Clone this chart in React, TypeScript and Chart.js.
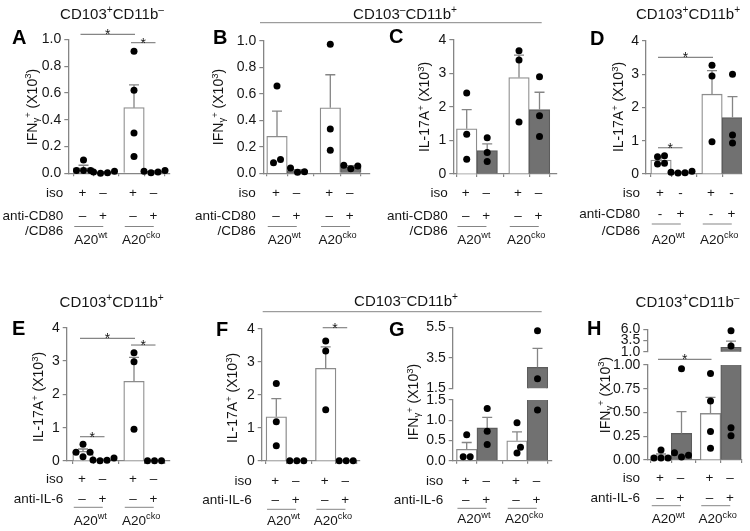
import React, { useEffect, useRef } from 'react';
import { Chart, registerables } from 'chart.js';
Chart.register(...registerables);

// ---------------- data ----------------
const CONDITIONS = ['A20wt iso', 'A20wt anti', 'A20cko iso', 'A20cko anti'];
const GENO_SUP = ['wt', 'cko'];
const ISO_ROW = ['+', '–', '+', '–'];
const ANTI_ROW = ['–', '+', '–', '+'];
const ISO_ROW_D = ['+', '-', '+', '-'];
const ANTI_ROW_D = ['-', '+', '-', '+'];

const TICKS_IFN = [0, 0.2, 0.4, 0.6, 0.8, 1.0];
const TICKLBL_IFN = ['0.0', '0.2', '0.4', '0.6', '0.8', '1.0'];
const TICKS_IL17 = [0, 1, 2, 3, 4];
const TICKLBL_IL17 = ['0', '1', '2', '3', '4'];
const TICKS_G_LOW = [0, 0.5, 1.0, 1.5];
const TICKLBL_G_LOW = ['0.0', '0.5', '1.0', '1.5'];
const TICKS_G_UP = [1.5, 3.5, 5.5];
const TICKLBL_G_UP = ['1.5', '3.5', '5.5'];
const TICKS_H_LOW = [0, 0.25, 0.5, 0.75, 1.0];
const TICKLBL_H_LOW = ['0.00', '0.25', '0.50', '0.75', '1.00'];
const TICKS_H_UP = [1.0, 3.5, 6.0];
const TICKLBL_H_UP = ['1.0', '3.5', '6.0'];

const A_MEAN = [0.04, 0.008, 0.49, 0.015];
const A_SEM = [0.02, 0.004, 0.17, 0.004];
const A_DOTS = [[0.1, 0.02, 0.02, 0.02], [0.0, 0.005, 0.01, 0.015], [0.91, 0.62, 0.3, 0.125], [0.005, 0.01, 0.015, 0.02]];
const A_SIG = [[0, 2, 1.037], [2, 3, 0.975]];

const B_MEAN = [0.28, 0.02, 0.495, 0.05];
const B_SEM = [0.19, 0.008, 0.25, 0.008];
const B_DOTS = [[0.66, 0.08, 0.105], [0.04, 0.008, 0.012], [0.975, 0.335, 0.175], [0.06, 0.035, 0.055]];

const C_MEAN = [1.35, 0.7, 2.88, 1.92];
const C_SEM = [0.57, 0.2, 0.67, 0.52];
const C_DOTS = [[2.42, 1.19, 0.44], [1.08, 0.64, 0.37], [3.68, 3.4, 1.55], [2.9, 1.74, 1.12]];

const D_MEAN = [0.42, 0.05, 2.4, 1.7];
const D_SEM = [0.08, 0.015, 0.71, 0.63];
const D_DOTS = [[0.55, 0.52, 0.32, 0.3], [0.08, 0.05, 0.03, 0.04], [3.27, 2.95, 0.97], [3.0, 1.17, 0.93]];
const D_SIG = [[0, 2, 3.51], [0, 1, 0.79]];

const E_MEAN = [0.29, 0.035, 2.39, 0.01];
const E_SEM = [0.07, 0.018, 0.72, 0.003];
const E_DOTS = [[0.5, 0.26, 0.26, 0.13], [0.09, 0.03, 0.02, 0.01], [3.25, 2.98, 0.95], [0.01, 0.01, 0.01]];
const E_SIG = [[0, 2, 3.68], [2, 3, 3.48], [0, 1, 0.73]];

const F_MEAN = [1.34, 0.01, 2.81, 0.01];
const F_SEM = [0.55, 0.003, 0.65, 0.003];
const F_DOTS = [[2.35, 1.19, 0.46], [0.01, 0.01, 0.01], [3.64, 3.33, 1.55], [0.01, 0.01, 0.01]];
const F_SIG = [[2, 3, 4.04]];

const G_MEAN = [0.28, 0.81, 0.49, 2.88];
const G_SEM = [0.17, 0.26, 0.22, 1.24];
const G_DOTS = [[0.64, 0.1, 0.1], [1.29, 0.73, 0.4], [0.94, 0.33, 0.19], [5.28, 2.13, 1.25]];

const H_MEAN = [0.046, 0.28, 0.49, 2.0];
const H_SEM = [0.017, 0.23, 0.17, 1.35];
const H_DOTS = [[0.105, 0.02, 0.02, 0.02], [0.96, 0.077, 0.032, 0.05], [0.91, 0.62, 0.3, 0.125], [5.69, 2.27, 0.34, 0.256]];
const H_SIG = [[0, 2, 1.06]];

// ---------------- styles / layout ----------------
const FAMILY = '"Liberation Sans", Arial, Helvetica, sans-serif';
const AX = '#858585';
const TXT = '#151515';
const FILLS = ['#ffffff', '#717171', '#ffffff', '#717171'];
const BORDERS = ['#8c8c8c', '#5c5c5c', '#8c8c8c', '#5c5c5c'];
const YW = 50;
const U = 20.5;
const STEP = 7;
const DOT_R = 3.5;
const FS_TICK = 14;
const FS_ROW = 13.5;
const FS_TITLE = 15;
const FS_YT = 14;
const FS_LETTER = 20;

type Seg = { t: string; sup?: boolean; sub?: boolean };
const T_PM: Seg[] = [{ t: 'CD103' }, { t: '+', sup: true }, { t: 'CD11b' }, { t: '–', sup: true }];
const T_MP: Seg[] = [{ t: 'CD103' }, { t: '–', sup: true }, { t: 'CD11b' }, { t: '+', sup: true }];
const T_PP: Seg[] = [{ t: 'CD103' }, { t: '+', sup: true }, { t: 'CD11b' }, { t: '+', sup: true }];
const Y_IFN: Seg[] = [{ t: 'IFN' }, { t: 'γ', sub: true }, { t: '+', sup: true }, { t: ' (X10' }, { t: '3', sup: true }, { t: ')' }];
const Y_IL17: Seg[] = [{ t: 'IL-17A' }, { t: '+', sup: true }, { t: ' (X10' }, { t: '3', sup: true }, { t: ')' }];

const font = (size: number, bold = false) => `${bold ? 'bold ' : ''}${size}px ${FAMILY}`;

function drawRich(ctx: any, segs: Seg[], x: number, yc: number, align: string, size: number) {
  const small = size * 0.68;
  const yBase = yc + size * 0.36;
  let w = 0;
  const ws = segs.map((s) => {
    ctx.font = font(s.sup || s.sub ? small : size);
    const m = ctx.measureText(s.t).width;
    w += m;
    return m;
  });
  let cx = align === 'center' ? x - w / 2 : align === 'right' ? x - w : x;
  ctx.textAlign = 'left';
  ctx.textBaseline = 'alphabetic';
  ctx.fillStyle = TXT;
  segs.forEach((s, i) => {
    ctx.font = font(s.sup || s.sub ? small : size);
    const dy = s.sup ? -size * 0.4 : s.sub ? size * 0.15 : 0;
    ctx.fillText(s.t, cx, yBase + dy);
    cx += ws[i];
  });
}

function swarmOffsets(vals: number[], pxPerY: number): number[] {
  const idx = vals.map((_, i) => i).sort((a, b) => vals[a] - vals[b]);
  const cands = [0, STEP / 2, -STEP / 2, STEP, -STEP, 1.5 * STEP, -1.5 * STEP, 2 * STEP, -2 * STEP];
  const px: number[] = vals.map(() => 0);
  const placed: number[] = [];
  for (const i of idx) {
    const y = vals[i] * pxPerY;
    for (const c of cands) {
      if (placed.every((j) => Math.hypot(px[j] - c, vals[j] * pxPerY - y) >= 6.6)) {
        px[i] = c;
        break;
      }
    }
    placed.push(i);
  }
  let start = 0;
  for (let k = 1; k <= idx.length; k++) {
    if (k === idx.length || (vals[idx[k]] - vals[idx[k - 1]]) * pxPerY >= 5) {
      const row = idx.slice(start, k);
      if (row.length > 1) {
        const mean = row.reduce((s, j) => s + px[j], 0) / row.length;
        row.forEach((j) => (px[j] -= mean));
      }
      start = k;
    }
  }
  return px;
}

const TOP_ROWS = (signIso: string[], signAnti: string[], yAnti: number) => [
  { label: [{ t: 'iso' }], y: 192, signs: signIso },
  { label: [{ t: 'anti-CD80' }], y: yAnti, signs: signAnti },
  { label: [{ t: '/CD86' }], y: 230.5 },
];
const BOT_ROWS = (yIso: number, yAnti: number) => [
  { label: [{ t: 'iso' }], y: yIso, signs: ISO_ROW },
  { label: [{ t: 'anti-IL-6' }], y: yAnti, signs: ANTI_ROW },
];

const SPECS: any[] = [
  {
    part: 'full', geo: { left: 68.3, right: 170, top: 39.3, bottom: 173.3, c1: 83.5, c3: 134 },
    yMin: 0, yMax: 1, ticks: TICKS_IFN, tickLabels: TICKLBL_IFN, means: A_MEAN, sems: A_SEM, dots: A_DOTS, sig: A_SIG,
    text: { letter: 'A', lx: 12, ly: 36.3, title: { segs: T_PM, x: 112, y: 14 }, yTitle: Y_IFN, ytx: 31.7, yty: 107,
      rowRight: 63.3, rows: TOP_ROWS(ISO_ROW, ANTI_ROW, 215), gLineY: 226.5, gLabelY: 239 },
  },
  {
    part: 'full', geo: { left: 263.3, right: 370, top: 41, bottom: 173.3, c1: 277, c3: 330.3 },
    yMin: 0, yMax: 1, ticks: TICKS_IFN, tickLabels: TICKLBL_IFN, means: B_MEAN, sems: B_SEM, dots: B_DOTS, sig: [],
    text: { letter: 'B', lx: 213, ly: 36.7, title: { segs: T_MP, x: 405, y: 14 }, span: { x1: 260, x2: 541.7, y: 22.7 },
      yTitle: Y_IFN, ytx: 218.3, yty: 107, rowRight: 255.7, rows: TOP_ROWS(ISO_ROW, ANTI_ROW, 215), gLineY: 226.5, gLabelY: 239 },
  },
  {
    part: 'full', geo: { left: 453.3, right: 557, top: 40, bottom: 174, c1: 466.7, c3: 519 },
    yMin: 0, yMax: 4, ticks: TICKS_IL17, tickLabels: TICKLBL_IL17, means: C_MEAN, sems: C_SEM, dots: C_DOTS, sig: [],
    text: { letter: 'C', lx: 389, ly: 36, yTitle: Y_IL17, ytx: 424.3, yty: 107,
      rowRight: 447.7, rows: TOP_ROWS(ISO_ROW, ANTI_ROW, 215), gLineY: 226.5, gLabelY: 239 },
  },
  {
    part: 'full', geo: { left: 646, right: 742, top: 41, bottom: 174, c1: 661, c3: 712 },
    yMin: 0, yMax: 4, ticks: TICKS_IL17, tickLabels: TICKLBL_IL17, means: D_MEAN, sems: D_SEM, dots: D_DOTS, sig: D_SIG,
    text: { letter: 'D', lx: 590, ly: 38, title: { segs: T_PP, x: 688, y: 14 }, yTitle: Y_IL17, ytx: 618.3, yty: 107,
      rowRight: 640, rows: TOP_ROWS(ISO_ROW_D, ANTI_ROW_D, 213.5), gLineY: 224, gLabelY: 239 },
  },
  {
    part: 'full', geo: { left: 66.7, right: 170, top: 327.7, bottom: 461, c1: 83, c3: 134 },
    yMin: 0, yMax: 4, ticks: TICKS_IL17, tickLabels: TICKLBL_IL17, means: E_MEAN, sems: E_SEM, dots: E_DOTS, sig: E_SIG,
    text: { letter: 'E', lx: 12, ly: 328, title: { segs: T_PP, x: 111.7, y: 301.7 }, yTitle: Y_IL17, ytx: 38.3, yty: 397,
      rowRight: 63.3, rows: BOT_ROWS(478.3, 497.7), gLineY: 507.3, gLabelY: 520 },
  },
  {
    part: 'full', geo: { left: 261.7, right: 360, top: 329, bottom: 461, c1: 276.3, c3: 325.7 },
    yMin: 0, yMax: 4, ticks: TICKS_IL17, tickLabels: TICKLBL_IL17, means: F_MEAN, sems: F_SEM, dots: F_DOTS, sig: F_SIG,
    text: { letter: 'F', lx: 216, ly: 329, title: { segs: T_MP, x: 406, y: 300.7 }, span: { x1: 262.7, x2: 541.7, y: 311.7 },
      yTitle: Y_IL17, ytx: 232.3, yty: 398, rowRight: 251.7, rows: BOT_ROWS(480, 499.3), gLineY: 509.3, gLabelY: 520 },
  },
  {
    part: 'upper', geo: { left: 452.7, right: 551.7, top: 327.3, bottom: 388.3, c1: 466.7, c3: 517 },
    yMin: 1.5, yMax: 5.5, ticks: TICKS_G_UP, tickLabels: TICKLBL_G_UP, means: G_MEAN, sems: G_SEM, dots: G_DOTS, sig: [],
  },
  {
    part: 'lower', geo: { left: 452.7, right: 551.7, top: 400, bottom: 460.7, c1: 466.7, c3: 517 },
    yMin: 0, yMax: 1.5, ticks: TICKS_G_LOW, tickLabels: TICKLBL_G_LOW, means: G_MEAN, sems: G_SEM, dots: G_DOTS, sig: [],
    text: { letter: 'G', lx: 389, ly: 329, yTitle: Y_IFN, ytx: 413.3, yty: 402,
      rowRight: 443.3, rows: BOT_ROWS(480, 499.3), gLineY: 508.3, gLabelY: 518.5 },
  },
  {
    part: 'upper', geo: { left: 647.3, right: 742, top: 329.3, bottom: 351.7, c1: 661, c3: 710.5 },
    yMin: 1.0, yMax: 6.0, ticks: TICKS_H_UP, tickLabels: TICKLBL_H_UP, means: H_MEAN, sems: H_SEM, dots: H_DOTS, sig: [],
  },
  {
    part: 'lower', geo: { left: 647.3, right: 742, top: 365, bottom: 460, c1: 661, c3: 710.5 },
    yMin: 0, yMax: 1.0, ticks: TICKS_H_LOW, tickLabels: TICKLBL_H_LOW, means: H_MEAN, sems: H_SEM, dots: H_DOTS, sig: H_SIG,
    text: { letter: 'H', lx: 587, ly: 328, title: { segs: T_PM, x: 687.5, y: 301.7 }, yTitle: Y_IFN, ytx: 605, yty: 395,
      rowRight: 640, rows: BOT_ROWS(477.3, 497.3), gLineY: 505.7, gLabelY: 518.5 },
  },
];

function drawText(chart: any, s: any, xs: number[]) {
  const t = s.text;
  const ctx = chart.ctx;
  const xsc = chart.scales.x;
  const ysc = chart.scales.y;
  const cx = xs.map((v) => xsc.getPixelForValue(v));
  ctx.save();
  ctx.fillStyle = '#000';
  ctx.font = font(FS_LETTER, true);
  ctx.textAlign = 'left';
  ctx.textBaseline = 'alphabetic';
  ctx.fillText(t.letter, t.lx, t.ly + FS_LETTER * 0.36);
  if (t.title) drawRich(ctx, t.title.segs, t.title.x, t.title.y, 'center', FS_TITLE);
  ctx.strokeStyle = AX;
  ctx.lineWidth = 1;
  if (t.span) {
    ctx.beginPath();
    ctx.moveTo(t.span.x1, t.span.y);
    ctx.lineTo(t.span.x2, t.span.y);
    ctx.stroke();
  }
  ctx.save();
  ctx.translate(t.ytx, t.yty);
  ctx.rotate(-Math.PI / 2);
  drawRich(ctx, t.yTitle, 0, 0, 'center', FS_YT);
  ctx.restore();
  t.rows.forEach((r: any) => {
    drawRich(ctx, r.label, t.rowRight, r.y, 'right', FS_ROW);
    if (r.signs) {
      ctx.font = font(FS_ROW);
      ctx.textAlign = 'center';
      ctx.fillStyle = TXT;
      r.signs.forEach((sg: string, i: number) => ctx.fillText(sg, cx[i] - 1, r.y + FS_ROW * 0.36));
    }
  });
  [0, 1].forEach((gi) => {
    const gc = (cx[2 * gi] + cx[2 * gi + 1]) / 2;
    ctx.strokeStyle = AX;
    ctx.lineWidth = 1;
    ctx.beginPath();
    ctx.moveTo(gc - 5 - 14.5, t.gLineY);
    ctx.lineTo(gc - 5 + 14.5, t.gLineY);
    ctx.stroke();
    drawRich(ctx, [{ t: 'A20' }, { t: GENO_SUP[gi], sup: true }], gc - 3, t.gLabelY, 'center', FS_ROW);
  });
  (s.sig || []).forEach(([a, b, v]: number[]) => {
    const y = ysc.getPixelForValue(v);
    ctx.strokeStyle = AX;
    ctx.lineWidth = 1.2;
    ctx.beginPath();
    ctx.moveTo(cx[a] - 3, y);
    ctx.lineTo(cx[b] + 1, y);
    ctx.stroke();
    ctx.font = font(14);
    ctx.textAlign = 'center';
    ctx.fillStyle = TXT;
    ctx.fillText('*', (cx[a] - 3 + cx[b] + 1) / 2, y + 5);
  });
  ctx.restore();
}

function makeConfig(s: any) {
  const g = s.geo;
  const k = (g.c3 - g.c1) / U;
  const xs = [0, 1, k, k + 1];
  const xMin = (g.left - g.c1) / U;
  const xMax = (g.right - g.c1) / U;
  const pxPerY = (g.bottom - g.top) / (s.yMax - s.yMin);
  const hasX = s.part !== 'upper';
  const dots: any[] = [];
  s.dots.forEach((vals: number[], i: number) => {
    const keep = vals.filter((v) => (s.part === 'lower' ? v <= s.yMax : s.part === 'upper' ? v > s.yMin : true));
    const offs = swarmOffsets(keep, pxPerY);
    keep.forEach((v, j) => dots.push({ x: xs[i] + offs[j] / U, y: v }));
  });
  const barDs: any = {
    type: 'bar',
    label: 'mean',
    data: s.means.map((m: number, i: number) => ({ x: xs[i], y: s.part === 'upper' && m <= s.yMin ? null : m })),
    backgroundColor: FILLS,
    borderColor: BORDERS,
    borderWidth: 1.3,
    barPercentage: 1,
    categoryPercentage: 1,
    order: 2,
  };
  if (s.part !== 'full') barDs.clip = 0;
  return {
    type: 'bar',
    data: {
      labels: CONDITIONS,
      datasets: [
        barDs,
        { type: 'scatter', label: 'dots', data: dots, pointRadius: DOT_R, pointBackgroundColor: '#000', pointBorderWidth: 0, borderWidth: 0, order: 1, clip: false },
      ],
    },
    options: {
      responsive: false,
      maintainAspectRatio: false,
      animation: false,
      events: [],
      layout: { padding: { left: g.left - YW, right: 750 - g.right, top: g.top, bottom: 531 - g.bottom - (hasX ? 3 : 0) } },
      plugins: { legend: { display: false }, tooltip: { enabled: false } },
      scales: {
        x: {
          type: 'linear', display: hasX, min: xMin, max: xMax, offset: false,
          grid: { drawOnChartArea: false, drawTicks: true, tickLength: 3, color: AX, lineWidth: 1.2 },
          border: { display: true, color: AX, width: 1.3 },
          ticks: { display: false },
          afterBuildTicks: (sc: any) => { sc.ticks = xs.map((v) => ({ value: v })); },
          afterFit: (sc: any) => { sc.height = hasX ? 3 : 0; },
        },
        y: {
          type: 'linear', min: s.yMin, max: s.yMax,
          grid: { drawOnChartArea: false, drawTicks: true, tickLength: 4, color: AX, lineWidth: 1.2 },
          border: { display: true, color: AX, width: 1.3 },
          ticks: {
            autoSkip: false, padding: 3, color: TXT, font: { family: FAMILY, size: FS_TICK },
            callback: (v: number) => {
              const i = s.ticks.findIndex((t: number) => Math.abs(t - v) < 1e-9);
              return i >= 0 ? s.tickLabels[i] : '';
            },
          },
          afterBuildTicks: (sc: any) => { sc.ticks = s.ticks.map((v: number) => ({ value: v })); },
          afterFit: (sc: any) => { sc.width = YW; },
        },
      },
    },
    plugins: [
      {
        id: 'panelDeco',
        afterDatasetDraw(chart: any, args: any) {
          if (args.meta.type !== 'bar') return;
          const ysc = chart.scales.y;
          const ctx = chart.ctx;
          ctx.save();
          ctx.strokeStyle = AX;
          ctx.lineWidth = 1.3;
          s.means.forEach((m: number, i: number) => {
            if (m > s.yMax || (s.part === 'upper' && m <= s.yMin)) return;
            const el = args.meta.data[i];
            if (!el) return;
            const x = el.x;
            const y0 = ysc.getPixelForValue(m);
            const y1 = ysc.getPixelForValue(m + s.sems[i]);
            ctx.beginPath();
            ctx.moveTo(x, y0);
            ctx.lineTo(x, y1);
            ctx.moveTo(x - 5, y1);
            ctx.lineTo(x + 5, y1);
            ctx.stroke();
          });
          ctx.restore();
        },
        afterDraw(chart: any) {
          if (s.text) drawText(chart, s, xs);
        },
      },
    ],
  };
}

export default function App() {
  const refs = useRef<(HTMLCanvasElement | null)[]>([]);
  useEffect(() => {
    const charts = SPECS.map((s, i) => new Chart(refs.current[i] as HTMLCanvasElement, makeConfig(s) as any));
    return () => charts.forEach((c) => c.destroy());
  }, []);
  return (
    <div style={{ position: 'fixed', left: 0, top: 0, width: 750, height: 531, background: '#fff', overflow: 'hidden' }}>
      {SPECS.map((_, i) => (
        <canvas
          key={i}
          ref={(el) => { refs.current[i] = el; }}
          width={750}
          height={531}
          style={{ position: 'absolute', left: 0, top: 0, width: 750, height: 531 }}
        />
      ))}
    </div>
  );
}
